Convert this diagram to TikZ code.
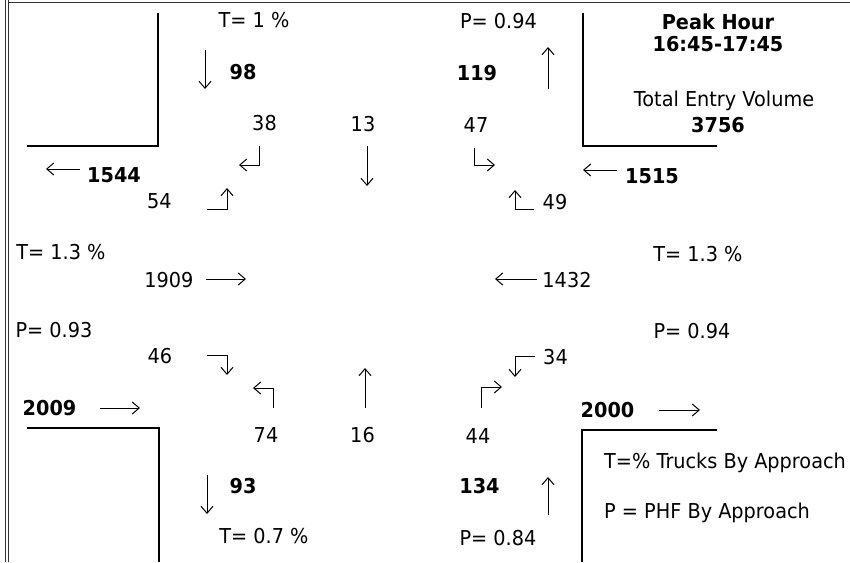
\documentclass[tikz,border=0pt]{standalone}
\usepackage{fontspec}
\setmainfont{DejaVu Sans}[FakeStretch=0.94]
\usetikzlibrary{arrows.meta}
\begin{document}
\begin{tikzpicture}[x=1pt,y=-1pt,
  lbl/.style={font=\fontsize{20.5}{24}\selectfont, inner sep=0pt, text height=15pt, text depth=0pt},
  blbl/.style={lbl, font=\fontsize{20.5}{24}\selectfont\bfseries},
  arr/.style={-{Straight Barb[length=7pt,width=12pt]}, line width=1pt},
  road/.style={line width=1.4pt},
  frame/.style={line width=1pt, black!80}]
\useasboundingbox[fill=white] (0,0) rectangle (850,562);
% frame
\draw[frame] (5,0) -- (5,562);
\draw[frame] (8,0) -- (8,562);
\draw[frame] (8,2.5) -- (850,2.5);
% road corners
\draw[road] (27,146) -- (158,146) -- (158,13);
\draw[road] (583,13) -- (583,146) -- (717,146);
\draw[road] (27,428) -- (159,428) -- (159,562);
\draw[road] (717,430) -- (582,430) -- (582,562);
% texts
\node[lbl] (T1) at (254,19.5) {T= 1 \%};
\node[lbl] (Ptop) at (498.5,20.5) {P= 0.94};
\node[blbl] (n98) at (243,71.5) {98};
\node[blbl] (n119) at (477,72.5) {119};
\node[blbl] (peak) at (718,22) {Peak Hour};
\node[blbl] (time) at (718,44) {16:45-17:45};
\node[lbl] (tev) at (724,99) {Total Entry Volume};
\node[blbl] (tot) at (718,125) {3756};
\node[lbl] (n38) at (264.5,123) {38};
\node[lbl] (n13) at (363,123.5) {13};
\node[lbl] (n47) at (476,124.5) {47};
\node[blbl] (n1544) at (114,175) {1544};
\node[blbl] (n1515) at (652,176) {1515};
\node[lbl] (n54) at (159.5,201) {54};
\node[lbl] (n49) at (555,202) {49};
\node[lbl] (TL) at (61,251.5) {T= 1.3 \%};
\node[lbl] (TR) at (698,254) {T= 1.3 \%};
\node[lbl] (n1909) at (169,280) {1909};
\node[lbl] (n1432) at (567,280) {1432};
\node[lbl] (PL) at (54,330) {P= 0.93};
\node[lbl] (PR) at (692,331) {P= 0.94};
\node[lbl] (n46) at (160,355.5) {46};
\node[lbl] (n34) at (555.5,357) {34};
\node[blbl] (n2009) at (49.5,407.5) {2009};
\node[blbl] (n2000) at (607.5,409.5) {2000};
\node[lbl] (n74) at (266,434.5) {74};
\node[lbl] (n16) at (362.5,434.5) {16};
\node[lbl] (n44) at (478,435.5) {44};
\node[blbl] (n93) at (243,485.5) {93};
\node[blbl] (n134) at (479.5,485.5) {134};
\node[lbl] (Tb) at (264,536) {T= 0.7 \%};
\node[lbl] (Pb) at (498,538) {P= 0.84};
\node[lbl, anchor=west] (leg1) at (604,461) {T=\% Trucks By Approach};
\node[lbl, anchor=west] (leg2) at (604,511) {P = PHF By Approach};
% straight arrows
\draw[arr] (205,50) -- (205,89);
\draw[arr] (548,89) -- (548,47);
\draw[arr] (80,169) -- (46,169);
\draw[arr] (617,170) -- (583,170);
\draw[arr] (206,279) -- (246,279);
\draw[arr] (537,279) -- (495,279);
\draw[arr] (100,408) -- (140,408);
\draw[arr] (659,410) -- (700,410);
\draw[arr] (207,475) -- (207,514);
\draw[arr] (548,515) -- (548,477);
\draw[arr] (367,146) -- (367,186);
\draw[arr] (365,408) -- (365,368);
% turning arrows
\draw[arr] (259,146) -- (259,165) -- (239,165);
\draw[arr] (207,209) -- (227,209) -- (227,188);
\draw[arr] (474,148) -- (474,165) -- (495,165);
\draw[arr] (534,209) -- (515,209) -- (515,190);
\draw[arr] (207,355) -- (227,355) -- (227,375);
\draw[arr] (273,408) -- (273,388) -- (253,388);
\draw[arr] (535,356) -- (515,356) -- (515,377);
\draw[arr] (481,408) -- (481,387) -- (502,387);
\end{tikzpicture}
\end{document}
